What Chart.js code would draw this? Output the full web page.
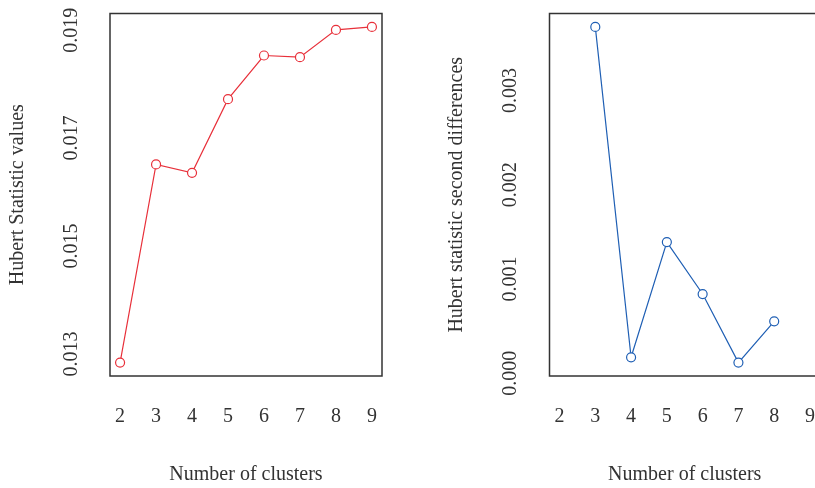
<!DOCTYPE html>
<html>
<head>
<meta charset="utf-8">
<script src="https://cdn.jsdelivr.net/npm/chart.js@4.4.1/dist/chart.umd.min.js"></script>
<style>
  html, body { margin: 0; padding: 0; width: 815px; height: 488px; overflow: hidden; background: #fff; }
  canvas { position: absolute; top: 0; }
  #left { left: 0; }
  #right { left: 440px; }
</style>
</head>
<body>
<canvas id="left" width="408" height="488"></canvas>
<canvas id="right" width="400" height="488"></canvas>
<script>
// Hubert index for k = 2..9 clusters
const clusters = [2, 3, 4, 5, 6, 7, 8, 9];
const hubertValues = [0.012839, 0.016513, 0.016357, 0.017722, 0.018531, 0.018500, 0.019006, 0.019061];

// second differences of the Hubert index (defined for k = 3..8)
const diffClusters = [3, 4, 5, 6, 7, 8];
const hubertSecondDiff = [0.003674, 0.000170, 0.001392, 0.000841, 0.000114, 0.000551];

// axis tick labels
const xTicks = [2, 3, 4, 5, 6, 7, 8, 9];
const leftYTicks = [0.013, 0.015, 0.017, 0.019];
const rightYTicks = [0.000, 0.001, 0.002, 0.003];

const FONT = "'Liberation Serif', 'Times New Roman', serif";
const TEXT = '#333';

// 4% padding on each side of the data range, like base R plots
function padRange(vals) {
  const lo = Math.min(...vals), hi = Math.max(...vals);
  const d = (hi - lo) * 0.04;
  return [lo - d, hi + d];
}

const frame = {
  id: 'frame',
  afterDatasetsDraw(chart) {
    const a = chart.chartArea, ctx = chart.ctx;
    ctx.save();
    ctx.strokeStyle = '#333';
    ctx.lineWidth = 1.5;
    ctx.strokeRect(a.left, a.top, a.right - a.left, a.bottom - a.top);
    ctx.restore();
  }
};

function panel(id, xs, ys, color, yTitle, yTicks, titlePad, yWidth, padRight) {
  const [xMin, xMax] = padRange(clusters);
  const [yMin, yMax] = padRange(ys);
  return new Chart(document.getElementById(id), {
    type: 'line',
    data: {
      datasets: [{
        data: xs.map((x, i) => ({ x: x, y: ys[i] })),
        borderColor: color,
        borderWidth: 1.2,
        pointRadius: 4.5,
        pointBorderWidth: 1.2,
        pointBackgroundColor: '#fff',
        pointBorderColor: color,
        tension: 0
      }]
    },
    options: {
      responsive: false,
      animation: false,
      devicePixelRatio: 1,
      layout: { padding: { top: 13.5, right: padRight, left: 0, bottom: 0 } },
      plugins: { legend: { display: false }, tooltip: { enabled: false } },
      scales: {
        x: {
          type: 'linear',
          min: xMin, max: xMax,
          grid: { display: false, drawTicks: false },
          border: { display: false },
          afterBuildTicks: s => { s.ticks = xTicks.map(v => ({ value: v })); },
          afterFit: s => { s.height = 112; s.paddingLeft = 0; s.paddingRight = 0; },
          ticks: {
            autoSkip: false,
            padding: 29,
            color: TEXT,
            font: { family: FONT, size: 20 },
            callback: v => String(v)
          },
          title: {
            display: true,
            text: 'Number of clusters',
            color: TEXT,
            font: { family: FONT, size: 20 },
            padding: { top: 0, bottom: 1 }
          }
        },
        y: {
          type: 'linear',
          min: yMin, max: yMax,
          grid: { display: false, drawTicks: false },
          border: { display: false },
          afterBuildTicks: s => { s.ticks = yTicks.map(v => ({ value: v })); },
          afterFit: s => { s.width = yWidth; s.paddingTop = 0; s.paddingBottom = 0; },
          ticks: {
            autoSkip: false,
            minRotation: 90,
            maxRotation: 90,
            crossAlign: 'center',
            padding: 16,
            color: TEXT,
            font: { family: FONT, size: 20 },
            callback: v => Number(v).toFixed(3)
          },
          title: {
            display: true,
            text: yTitle,
            color: TEXT,
            font: { family: FONT, size: 20 },
            padding: { top: titlePad, bottom: 0 }
          }
        }
      }
    },
    plugins: [frame]
  });
}

panel('left', clusters, hubertValues, '#E8303A', 'Hubert Statistic values', leftYTicks, 6, 110, 26);
panel('right', diffClusters, hubertSecondDiff, '#1F5FB4', 'Hubert statistic second differences', rightYTicks, 5, 109.5, 20);
</script>
</body>
</html>
